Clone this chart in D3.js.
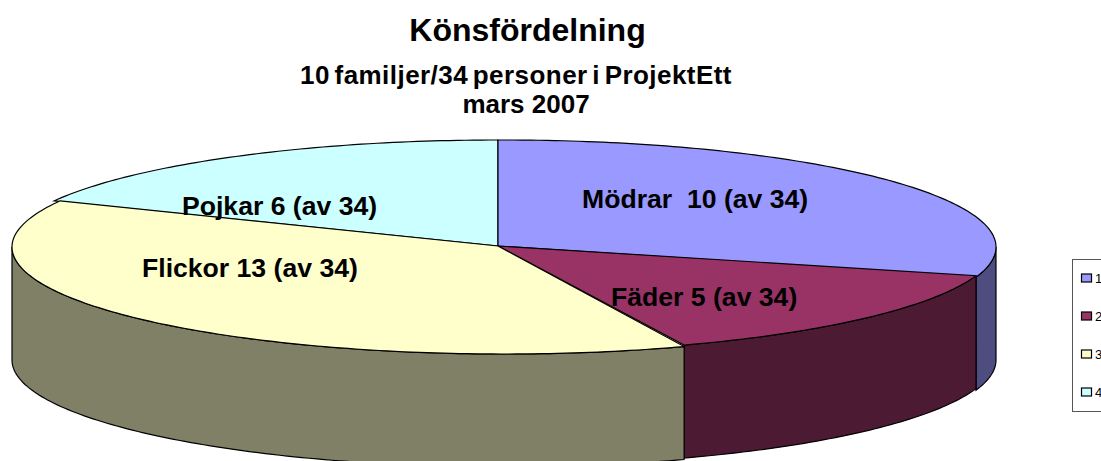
<!DOCTYPE html>
<html><head><meta charset="utf-8">
<script src="https://cdn.jsdelivr.net/npm/d3@7"></script>
<style>html,body{margin:0;padding:0;background:#fff;overflow:hidden}svg{display:block}text{font-family:"Liberation Sans",Arial,sans-serif;fill:#000}</style>
</head><body><svg id="c" width="1101" height="461"></svg>
<script>
const categories = ["1","2","3","4"];
const values = [10,5,13,6];
const labels = ["Mödrar  10 (av 34)","Fäder 5 (av 34)","Flickor 13 (av 34)","Pojkar 6 (av 34)"];
const topColors = ["#9999FF","#993366","#FFFFCC","#CCFFFF"];
const wallColors = ["#4D4D80","#4D1A33","#808066","#668080"];
const titleText = "Könsfördelning";
const subtitleLines = ["10 familjer/34 personer i ProjektEtt","mars 2007"];

const svg = d3.select("#c");
const apex = [498,246], rx = 492, ry = 107, depth = 113;
const centers = [[504,247],[504,245.5],[504,247],[498,247]];
const rad = d=>d*Math.PI/180;
const arcs = d3.pie().sort(null).startAngle(0).endAngle(2*Math.PI)(values);
// small per-boundary corrections: each slice is drawn slightly apart in the source's 3D view
const shiftStart=[-0.7,0.5,-0.3,-0.9].map(rad), shiftEnd=[0.5,-0.3,-0.9,0].map(rad);
const pt = (c,a,dy=0)=>[c[0]+rx*Math.sin(a), c[1]-ry*Math.cos(a)+dy];
const line = d3.line();
const thetas = (a,b)=>{const n=Math.max(2,Math.ceil((b-a)*60));return d3.range(n+1).map(i=>a+(b-a)*i/n);};

// walls, back to front
[0,1,2].forEach(i=>{
  const d=arcs[i],c=centers[i];
  const a=Math.max(d.startAngle+shiftStart[i],Math.PI/2),b=Math.min(d.endAngle+shiftEnd[i],1.5*Math.PI);
  const ts=thetas(a,b);
  const p=[...ts.map(t=>pt(c,t)),...ts.slice().reverse().map(t=>pt(c,t,depth))];
  svg.append("path").attr("d",line(p)+"Z").attr("fill",wallColors[i]).attr("stroke","#000").attr("stroke-width",1.2);
});
// tops
[3,0,1,2].forEach(i=>{
  const d=arcs[i],c=centers[i];
  const p=[apex,...thetas(d.startAngle+shiftStart[i],d.endAngle+shiftEnd[i]).map(t=>pt(c,t))];
  svg.append("path").attr("d",line(p)+"Z").attr("fill",topColors[i]).attr("stroke","#000").attr("stroke-width",1.2).attr("stroke-linejoin","miter");
});
// slice labels
const labelPos=[[582,208],[611,306],[142,277],[182,215]];
labels.forEach((t,i)=>svg.append("text").attr("x",labelPos[i][0]).attr("y",labelPos[i][1]).attr("xml:space","preserve").style("white-space","pre").attr("font-size",26.6).attr("font-weight","bold").text(t));
// titles
svg.append("text").attr("x",527.5).attr("y",41).attr("text-anchor","middle").attr("font-size",32).attr("font-weight","bold").text(titleText);
subtitleLines.forEach((t,i)=>svg.append("text").attr("x",i?526:516).attr("y",i?113:84).attr("text-anchor","middle").attr("font-size",26).attr("font-weight","bold").attr("word-spacing",i?0:-3).attr("letter-spacing",i?0:0.45).text(t));
// legend
svg.append("rect").attr("x",1072.5).attr("y",259.5).attr("width",40).attr("height",152).attr("fill","#fff").attr("stroke","#555").attr("stroke-width",1);
const ly=d3.scalePoint().domain(categories).range([278,392]);
categories.forEach((k,i)=>{
  svg.append("rect").attr("x",1081.5).attr("y",ly(k)-4).attr("width",10).attr("height",8).attr("fill",topColors[i]).attr("stroke","#000").attr("stroke-width",1.2);
  svg.append("text").attr("x",1095).attr("y",ly(k)+4.5).attr("font-size",13).text(k);
});
</script></body></html>
